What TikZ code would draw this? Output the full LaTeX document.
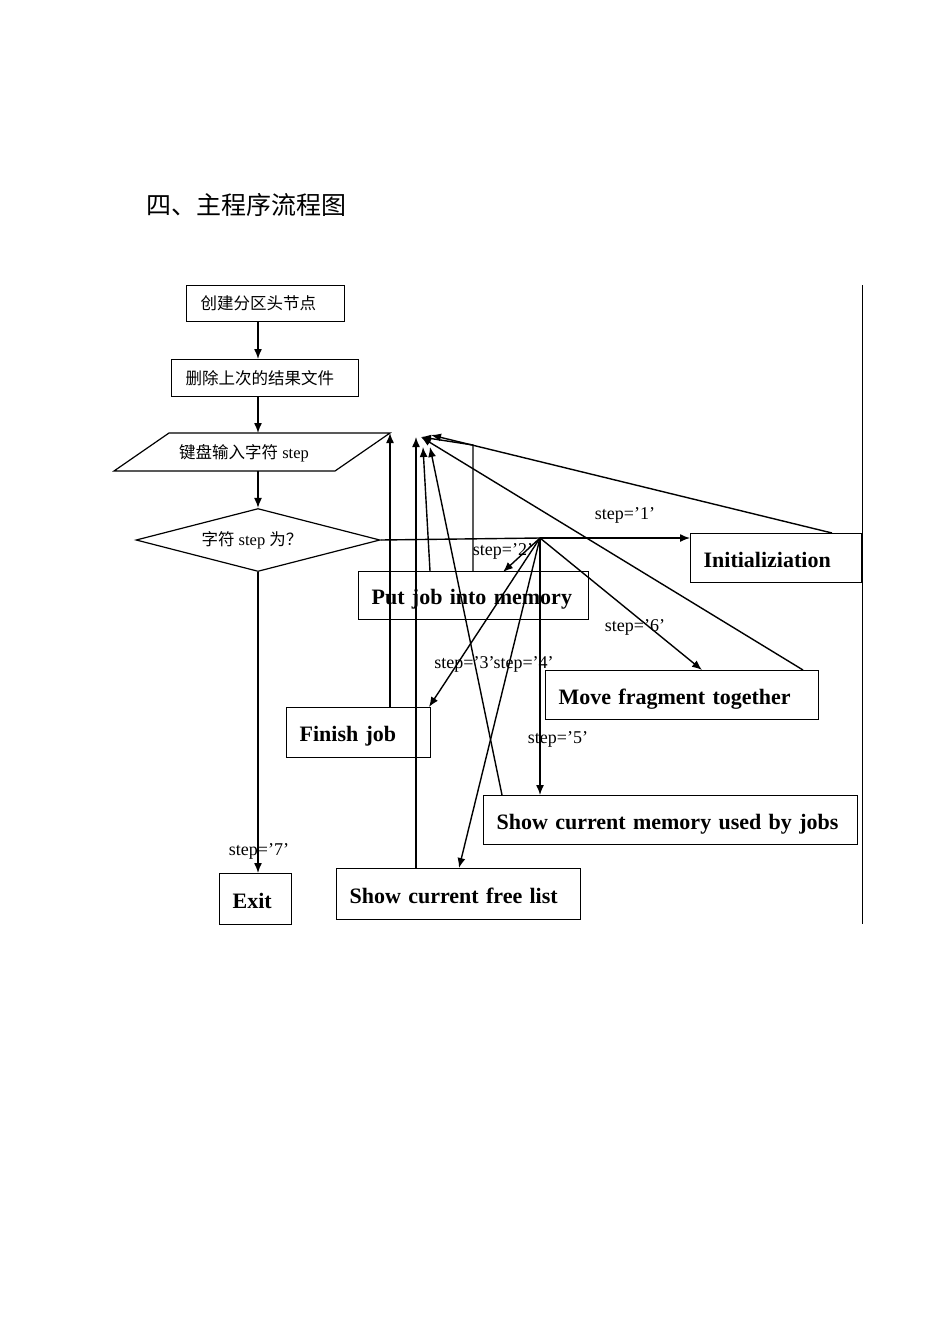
\documentclass[tikz,border=0pt]{standalone}
\usepackage{fontspec}
\setmainfont{Liberation Serif}
\newfontfamily\cjk{Noto Sans CJK SC}
\usetikzlibrary{arrows.meta,shapes.geometric}
\begin{document}
\begin{tikzpicture}[x=1pt,y=-1pt,
  box/.style={draw, line width=1.2pt, rectangle, anchor=north west, inner xsep=13pt, inner ysep=0pt, align=left, text height=18pt, text depth=0pt, font=\bfseries\fontsize{22}{25}\selectfont},
  cbox/.style={draw, line width=1.2pt, rectangle, anchor=north west, inner xsep=14pt, inner ysep=0pt, align=left, font=\cjk\fontsize{16.5}{19}\selectfont},
  conn/.style={line width=1.4pt},
  arr/.style={line width=1.4pt, -{Latex[length=10pt,width=8pt]}},
  lbl/.style={font=\fontsize{18}{20}\selectfont, inner sep=0pt}
]
\useasboundingbox (0,0) rectangle (950,1344);

% title
\node[font=\cjk\fontsize{25}{28}\selectfont, anchor=west] (title) at (143,205) {四、主程序流程图};

% top boxes
\node[cbox, text width=130pt, minimum height=36pt] (b1) at (186,285) {创建分区头节点};
\node[cbox, text width=159pt, minimum height=37pt] (b2) at (171,359) {删除上次的结果文件};

% parallelogram
\coordinate (pBL) at (114,471);
\coordinate (pTL) at (169,433);
\coordinate (pTR) at (390,433);
\coordinate (pBR) at (335,471);
\draw[line width=1.2pt] (pBL) -- (pTL) -- (pTR) -- (pBR) -- cycle;
\node[font=\fontsize{16.5}{19}\selectfont] (inp) at (244,453) {{\cjk 键盘输入字符} step};
\coordinate (pTop) at (258,433);
\coordinate (pBot) at (258,471);

% diamond
\node[draw, line width=1.2pt, shape=diamond, minimum width=244pt, minimum height=63pt, inner sep=0pt] (dia) at (258,540) {};
\node[font=\fontsize{16.5}{19}\selectfont] (diat) at (252,540) {{\cjk 字符} step {\cjk 为？}};

% process boxes
\node[box, text width=145pt, minimum height=49pt] (init) at (690,533) {Initializiation};
\node[box, text width=204pt, minimum height=48pt] (put) at (358,571) {Put job into memory};
\node[box, text width=247pt, minimum height=49pt] (move) at (545,670) {Move fragment together};
\node[box, text width=118pt, minimum height=50pt] (finish) at (286,707) {Finish job};
\node[box, text width=348pt, minimum height=49pt] (mem) at (483,795) {Show current memory used by jobs};
\node[box, text width=218pt, minimum height=51pt] (free) at (336,868) {Show current free list};
\node[box, text width=46pt, minimum height=51pt] (exit) at (219,873) {Exit};

% right border line
\coordinate (rTop) at (862,285);
\coordinate (rBot) at (862,924);
\draw[line width=1pt] (rTop) -- (rBot);

% main flow
\draw[arr] (b1.south -| pTop) -- (b2.north -| pTop);
\draw[arr] (b2.south -| pTop) -- (pTop);
\draw[arr] (pBot) -- (dia.north);

% hub and branches
\coordinate (hub) at (540,538);
\draw[conn] (dia.east) -- (hub);
\draw[arr] (hub) -- (init.west |- hub);
\coordinate (t2) at (503,572);
\draw[arr] (hub) -- (t2);
\coordinate (t3) at (429,707);
\draw[arr] (hub) -- (t3);
\coordinate (t4) at (459,868);
\draw[arr] (hub) -- (t4);
\draw[arr] (hub) -- (mem.north -| hub);
\coordinate (t6) at (702,670);
\draw[arr] (hub) -- (t6);
\draw[arr] (dia.south) -- (exit.north -| dia.south);

% returns
\coordinate (in1) at (390,433);
\coordinate (in2) at (416,437);
\coordinate (in3) at (421,437);
\coordinate (in4) at (423,447);
\coordinate (in5) at (430,447);
\coordinate (in6) at (431,435);
\coordinate (r473) at (473,445);
\coordinate (sInit) at (832,533);
\coordinate (sMove) at (803,670);
\coordinate (sPut) at (430,571);
\coordinate (sMem) at (502,795);
\draw[arr] (finish.north -| in1) -- (in1);
\draw[arr] (free.north -| in2) -- (in2);
\draw[arr] (sMove) -- (in3);
\draw[arr] (put.north -| r473) -- (r473) -- (in3);
\draw[arr] (sPut) -- (in4);
\draw[arr] (sMem) -- (in5);
\draw[arr] (sInit) -- (in6);

% labels
\node[lbl] (l1) at (625,515) {step=’1’};
\node[lbl] (l2) at (503,551) {step=’2’};
\node[lbl] (l34) at (494,664) {step=’3’step=’4’};
\node[lbl] (l6) at (635,627) {step=’6’};
\node[lbl] (l5) at (558,739) {step=’5’};
\node[lbl] (l7) at (259,851) {step=’7’};
\end{tikzpicture}
\end{document}
